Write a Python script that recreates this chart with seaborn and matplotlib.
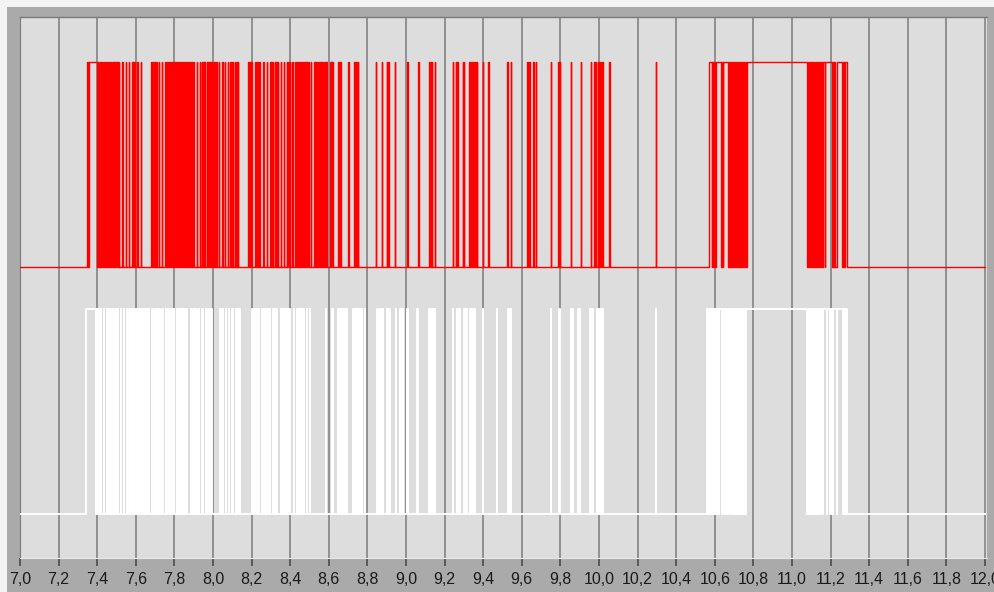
import matplotlib
matplotlib.use("Agg")
import matplotlib.pyplot as plt
import pandas as pd
import seaborn as sns

# Toggle instants (ms) of the two logic lines; both lines start low.
red_edges_ms = [
    7346, 7352, 7355,
    7397, 7402, 7407, 7412, 7417, 7422, 7427, 7432, 7437, 7442, 7447, 7452, 7457, 7462, 7467, 7472, 7477, 7482, 7487,
    7489, 7491,
    7496, 7500, 7504, 7508, 7512, 7515,
    7530, 7532,
    7548, 7550,
    7565, 7567,
    7579, 7583, 7587, 7591, 7594, 7597,
    7608, 7610,
    7625, 7627,
    7677, 7682, 7687, 7692, 7697, 7702, 7705, 7709,
    7720, 7722,
    7734, 7736,
    7751, 7756, 7761, 7766, 7771, 7776, 7781, 7786,
    7794, 7799, 7804, 7809, 7814, 7819, 7824, 7829, 7834, 7839, 7844, 7849, 7854, 7859, 7864, 7869, 7874, 7879, 7884, 7889,
    7898, 7900,
    7915, 7917,
    7933, 7935,
    7941, 7945, 7949, 7953, 7956, 7959,
    7967, 7972, 7977, 7982, 7987, 7992, 7997, 8002, 8007, 8012, 8016, 8020,
    8031, 8033,
    8048, 8050,
    8062, 8064,
    8076, 8078,
    8088, 8092, 8096, 8100, 8103, 8106,
    8114, 8118, 8122, 8126, 8129, 8132,
    8183, 8187, 8191, 8195, 8198, 8201,
    8218, 8223, 8228, 8233, 8238, 8243,
    8261, 8263,
    8278, 8280,
    8295, 8299, 8303, 8307, 8310, 8313,
    8321, 8325, 8329, 8333, 8336, 8339,
    8351, 8353,
    8368, 8370,
    8382, 8386, 8390, 8394, 8397, 8400,
    8411, 8413,
    8425, 8430, 8435, 8440, 8445, 8450, 8455, 8460,
    8468, 8472, 8476, 8480, 8483, 8486,
    8494, 8496,
    8506, 8508,
    8523, 8527, 8531, 8534, 8537, 8539,
    8546, 8550, 8554, 8558, 8561, 8564,
    8571, 8575, 8579, 8583, 8586, 8589,
    8606, 8609, 8612, 8615, 8618, 8620,
    8649, 8653, 8657, 8662,
    8701, 8703,
    8730, 8735, 8740, 8745, 8750, 8753,
    8844, 8846,
    8874, 8876,
    8900, 8904, 8908, 8913,
    8943, 8945,
    9007, 9009,
    9064, 9066,
    9119, 9123, 9127, 9130, 9133, 9135,
    9150, 9152,
    9242, 9244,
    9257, 9261, 9264, 9267,
    9294, 9297, 9300, 9302,
    9328, 9333, 9338, 9343, 9348, 9353, 9358, 9363, 9366, 9368,
    9397, 9399,
    9426, 9428,
    9525, 9527,
    9542, 9544,
    9628, 9632, 9636, 9640, 9642, 9644,
    9659, 9661,
    9673, 9675,
    9751, 9753,
    9789, 9793, 9796, 9799,
    9855, 9857,
    9905, 9907,
    9958, 9960,
    9974, 9978, 9982, 9985,
    9993, 9998, 10003, 10008, 10013, 10019,
    10053, 10055,
    10295, 10297,
    10570,
    10584, 10586,
    10592, 10596, 10600, 10604,
    10632, 10636, 10640, 10644,
    10667, 10671, 10675, 10679, 10683, 10687,
    10693, 10698, 10703, 10708, 10713, 10718, 10723, 10728, 10733, 10738, 10743, 10748, 10753, 10756,
    10764, 10766,
    11076, 11081, 11086, 11091, 11096, 11101, 11106, 11111, 11116, 11121, 11126, 11131, 11136, 11141, 11146, 11151, 11156, 11161,
    11171, 11173,
    11205, 11210, 11215, 11220, 11225, 11231,
    11257, 11263, 11269, 11275, 11283,
]

white_edges_ms = [
    7342,
    7394, 7398, 7402, 7406, 7410,
    7418, 7420,
    7435, 7437,
    7449, 7453, 7457, 7461, 7464, 7467,
    7478, 7480,
    7492, 7496, 7500, 7504, 7507, 7510,
    7522, 7524,
    7539, 7541,
    7556, 7558,
    7570, 7574, 7578, 7582, 7585, 7588,
    7597, 7599,
    7608, 7613, 7618, 7623, 7628, 7633, 7635, 7637,
    7648, 7652, 7656, 7660, 7663, 7666,
    7685, 7687,
    7699, 7703, 7707, 7711, 7715, 7719, 7721, 7723,
    7737, 7739,
    7755, 7757,
    7768, 7772, 7776, 7780, 7784, 7787,
    7798, 7800,
    7812, 7817, 7822, 7827, 7832, 7837, 7842, 7847, 7852, 7856,
    7864, 7866,
    7884, 7886,
    7898, 7902, 7906, 7910, 7913, 7916,
    7927, 7929,
    7945, 7947,
    7962, 7964,
    7976, 7980, 7984, 7988, 7991, 7994,
    8036, 8040, 8044, 8048, 8051, 8054,
    8066, 8068,
    8083, 8085,
    8100, 8102,
    8118, 8120,
    8126, 8130, 8134, 8138, 8140, 8142,
    8200, 8205, 8210, 8215, 8220, 8226,
    8238, 8240,
    8252, 8257, 8262, 8267, 8272, 8277, 8282, 8287,
    8295, 8297,
    8312, 8316, 8320, 8324, 8328, 8331,
    8351, 8353,
    8364, 8369, 8374, 8379, 8384, 8389, 8394, 8399,
    8420, 8422,
    8434, 8438, 8442, 8446, 8449, 8452,
    8460, 8462,
    8468, 8470,
    8485, 8487,
    8502, 8504,
    8585, 8587,
    8615, 8618, 8621, 8624,
    8649, 8653, 8657, 8661, 8665, 8668,
    8675, 8679, 8683, 8687, 8691, 8694,
    8727, 8731, 8735, 8739, 8742, 8745,
    8753, 8757, 8761, 8765, 8768, 8771,
    8787, 8789,
    8851, 8853,
    8865, 8869, 8873, 8876, 8879, 8881,
    8900, 8904, 8908, 8911, 8913, 8915,
    8948, 8950,
    8969, 8973, 8977, 8981, 8984, 8986,
    9007, 9009,
    9058, 9060,
    9121, 9126, 9131, 9136, 9141, 9146, 9149, 9151,
    9242, 9244,
    9263, 9267, 9271, 9275, 9278, 9281,
    9300, 9304, 9308, 9311, 9314, 9316,
    9331, 9336, 9341, 9346, 9351, 9356,
    9397, 9399,
    9470, 9472,
    9530, 9534, 9538, 9541, 9543, 9545,
    9750, 9752,
    9794, 9796,
    9853, 9857, 9861, 9864,
    9893, 9896, 9899, 9902,
    9953, 9957, 9961, 9965, 9968, 9971,
    9988, 9993, 9998, 10003, 10008, 10013, 10017, 10020,
    10295, 10297,
    10561,
    10565, 10569, 10573, 10575,
    10584, 10588, 10592, 10596, 10599, 10602,
    10613, 10617, 10621, 10624,
    10636, 10640, 10643, 10645,
    10653, 10657, 10661, 10665,
    10675, 10679, 10683, 10687,
    10696, 10700, 10704, 10708,
    10716, 10720, 10724, 10728,
    10736, 10741, 10746, 10751, 10756, 10761,
    11076, 11081, 11086, 11091, 11096, 11101, 11106, 11111, 11116, 11121, 11126, 11131, 11136, 11141, 11146, 11151, 11156, 11161,
    11180, 11182,
    11197, 11201, 11205, 11209, 11212, 11215,
    11231, 11233,
    11266, 11270, 11274, 11278, 11284,
]

t_start, t_end = 7.0, 12.0
tick_values = [7.0, 7.2, 7.4, 7.6, 7.8, 8.0, 8.2, 8.4, 8.6, 8.8, 9.0, 9.2, 9.4,
               9.6, 9.8, 10.0, 10.2, 10.4, 10.6, 10.8, 11.0, 11.2, 11.4, 11.6,
               11.8, 12.0]
tick_labels = ["7,0", "7,2", "7,4", "7,6", "7,8", "8,0", "8,2", "8,4", "8,6",
               "8,8", "9,0", "9,2", "9,4", "9,6", "9,8", "10,0", "10,2", "10,4",
               "10,6", "10,8", "11,0", "11,2", "11,4", "11,6", "11,8", "12,0"]


def step_frame(edges_ms, offset):
    """Turn a list of toggle instants into the vertices of a step trace."""
    t, y = [t_start], [offset]
    state = 0
    for e in edges_ms:
        s = e / 1000.0
        t += [s, s]
        y += [offset + state, offset + 1 - state]
        state = 1 - state
    t.append(t_end)
    y.append(offset + state)
    return pd.DataFrame({"t": t, "y": y})


W, H = 994, 592
fig = plt.figure(figsize=(W / 100, H / 100), dpi=100)
fig.patch.set_facecolor("#f3f3f3")

# grey window frame behind the plot area
frame = fig.add_axes([7 / W, 0, 1 - 7 / W, (H - 7) / H], zorder=-5)
frame.set_facecolor("#aaaaaa")
frame.set_xticks([])
frame.set_yticks([])
for sp in frame.spines.values():
    sp.set_visible(False)

ax = fig.add_axes([20 / W, 34 / H, 967 / W, 541 / H], zorder=1)
ax.set_facecolor("#dddddd")
ax.set_xlim(t_start, t_start + 967 / 193)
ax.set_ylim(-0.2146, 2.4244)

for v in tick_values:
    ax.axvline(v, color="#8a8a8a", lw=1.3, zorder=1)

red = step_frame(red_edges_ms, 1.205)
white = step_frame(white_edges_ms, 0.0)
sns.lineplot(data=white, x="t", y="y", color="#ffffff", lw=1.4,
             estimator=None, sort=False, ax=ax, zorder=3)
sns.lineplot(data=red, x="t", y="y", color="#ff0000", lw=1.0,
             estimator=None, sort=False, ax=ax, zorder=3)

ax.set_xlabel("")
ax.set_ylabel("")
ax.set_yticks([])
ax.set_xticks(tick_values)
ax.set_xticklabels(tick_labels, family=["Liberation Sans", "DejaVu Sans"],
                   fontsize=11.5, color="#1a1a1a")
ax.tick_params(axis="x", direction="out", length=6, width=1.2,
               color="#4a4a4a", pad=4)

ax.spines["right"].set_visible(False)
ax.spines["left"].set_color("#7a7a7a")
ax.spines["top"].set_color("#7a7a7a")
ax.spines["top"].set_linewidth(1.0)
ax.spines["bottom"].set_color("#e6e6e6")
ax.spines["bottom"].set_linewidth(0.8)

fig.savefig("out.png", dpi=100, facecolor=fig.get_facecolor())
